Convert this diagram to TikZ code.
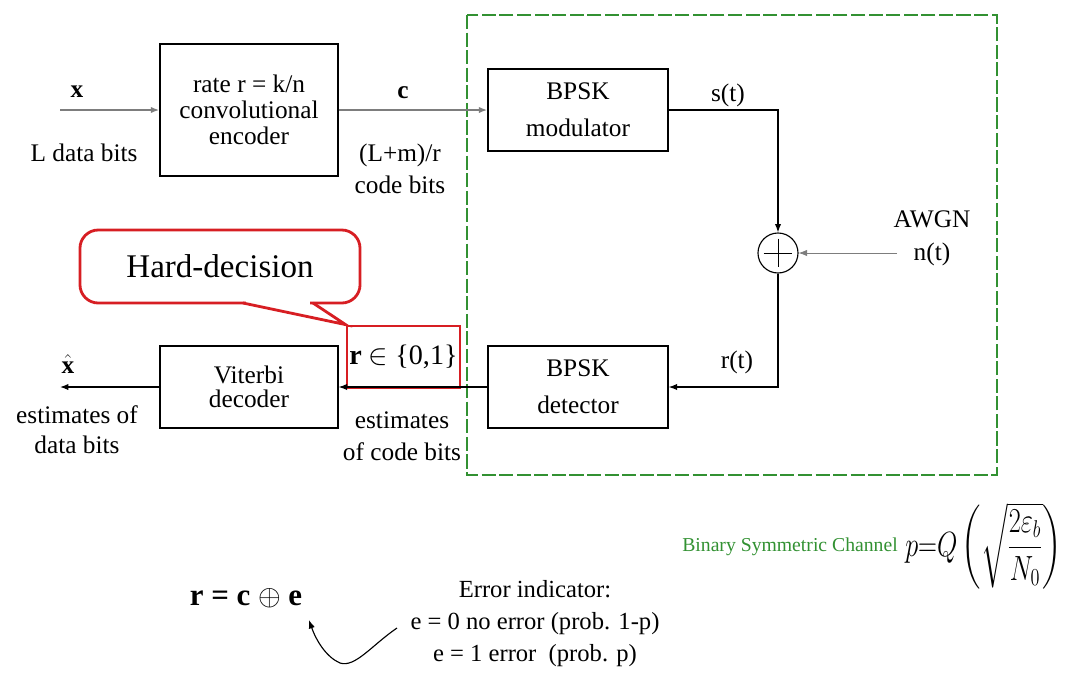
\documentclass[tikz,border=0pt]{standalone}
\usepackage{amsmath}
\usepackage{graphicx}
\usepackage{fontspec}
\setmainfont{Liberation Serif}
\usetikzlibrary{arrows.meta,positioning,calc}
\definecolor{chgreen}{RGB}{50,145,50}
\definecolor{hdred}{RGB}{215,30,35}
\definecolor{feedgrey}{RGB}{125,125,125}

\begin{document}
\begin{tikzpicture}[x=0.025cm, y=-0.025cm,
    codeblock/.style={rectangle, draw, line width=0.9pt, fill=white,
        minimum width=4.5cm, minimum height=2.05cm, align=center, inner sep=2pt},
    sigtext/.style={font=\fontsize{18}{21.5}\selectfont, inner sep=0pt, align=center},
    smalltext/.style={font=\fontsize{17.5}{22.8}\selectfont, inner sep=0pt, align=center},
    sigline/.style={-{Latex[length=6pt,width=4.5pt]}, line width=0.8pt},
    >=Latex
]
\useasboundingbox (0,0) rectangle (1065,673);

% channel frame
\draw[chgreen, line width=1pt, dash pattern=on 10pt off 2.5pt] (467,15) rectangle (997,475);

% blocks
\node[codeblock, minimum width=4.45cm, minimum height=3.3cm, font=\fontsize{18}{18.5}\selectfont] (encoder) at (249,110) {rate r = k/n\\convolutional\\encoder};
\node[codeblock, font=\fontsize{18}{26}\selectfont] (modulator) at (578,110) {BPSK\\modulator};
\node[codeblock, font=\fontsize{18}{26}\selectfont] (detector) at (578,387) {BPSK\\detector};
\node[codeblock, minimum width=4.45cm, font=\fontsize{18}{17.5}\selectfont] (viterbi) at (249,387) {Viterbi\\decoder};
\node[draw, circle, minimum size=1cm, inner sep=0pt, line width=0.8pt,
    path picture={\draw[line width=0.6pt]
        ([xshift=4pt]path picture bounding box.west) -- ([xshift=-4pt]path picture bounding box.east)
        ([yshift=-4pt]path picture bounding box.north) -- ([yshift=4pt]path picture bounding box.south);}] (adder) at (778,253) {};

% hard decision flag
\node[draw=hdred, line width=2pt, minimum width=2.825cm, minimum height=1.55cm, inner sep=0pt,
    font=\fontsize{20}{20}\selectfont] (hardset) at (403.5,357) {\textbf{r} $\in$ \{0,1\}};

% signal path
\coordinate (xin) at (60,110);
\coordinate (xout) at (60,387);
\coordinate (noise) at (897,253);
\draw[sigline, feedgrey, line width=1.3pt] (xin) -- (encoder.west);
\draw[sigline, feedgrey, line width=1.3pt] (encoder.east) -- (modulator.west);
\draw[sigline] (modulator.east) -| (adder.north);
\draw[sigline, feedgrey, line width=0.6pt] (noise) -- (adder.east);
\draw[sigline] (adder.south) |- (detector.east);
\draw[sigline] (detector.west) -- (viterbi.east);
\draw[sigline] (viterbi.west) -- (xout);

% labels
\node[sigtext] (xlabel) at (77,92) {\textbf{x}};
\node[sigtext] (databits) at (84,153) {L data bits};
\node[sigtext] (clabel) at (403,93) {\textbf{c}};
\node[sigtext, font=\fontsize{18}{22.8}\selectfont] (codebits) at (400,169) {(L+m)/r\\code bits};
\node[sigtext] (slabel) at (728,95) {s(t)};
\node[sigtext, font=\fontsize{18}{23.5}\selectfont] (noiselabel) at (932,238) {AWGN\\n(t)};
\node[sigtext] (rlabel) at (737,362) {r(t)};
\node[sigtext] (xhat) at (68,364) {$\hat{\mathbf{x}}$};
\node[sigtext] (xhatnote) at (77,430) {estimates of\\data bits};
\node[sigtext, font=\fontsize{18}{22.8}\selectfont] (rnote) at (402,436) {estimates\\of code bits};

% callout
\node[draw=hdred, line width=2pt, fill=white, rounded corners=13pt, minimum width=7cm,
    minimum height=1.825cm, inner sep=0pt, font=\fontsize{23.5}{24}\selectfont] (hardlabel) at (220,266.5) {Hard-decision};
\draw[white, line width=3.5pt] (246,303) -- (310,303);
\draw[hdred, line width=2pt, line join=miter] (243,303) -- (hardset.north west) -- (313,303);

% channel model
\node[font=\fontsize{14}{14}\selectfont, inner sep=0pt, text=chgreen, anchor=east] (bsc) at (898,547) {Binary Symmetric Channel};
\node[anchor=west, inner sep=0pt, font=\fontsize{20}{20}\selectfont] (pformula) at (905,546)
    {\scalebox{0.9}[1.2]{$p{=}Q\left(\sqrt{\dfrac{2\varepsilon_b}{N_0}}\right)$}};

% error model
\node[inner sep=0pt, font=\bfseries\fontsize{22}{22}\selectfont] (xoreq) at (246,598) {r = c $\oplus$ e};
\node[smalltext] (errnote) at (535,624) {Error indicator:\\e = 0 no error (prob. 1-p)\\e = 1 error~~(prob. p)};
\coordinate (errtail) at (397,628);
\coordinate (errhead) at (309,620);
\draw[sigline, line width=0.8pt] (errtail) .. controls (372,645) and (355,668) .. (340,663)
    .. controls (326,657) and (316,640) .. (errhead);
\end{tikzpicture}
\end{document}
